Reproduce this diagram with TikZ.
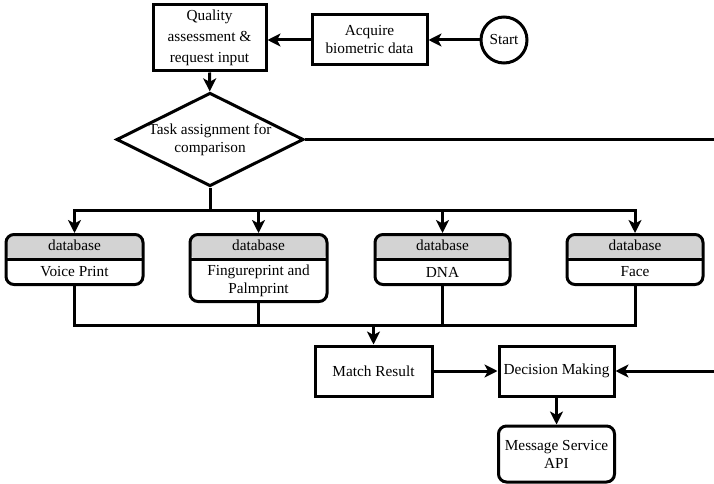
\documentclass[tikz,border=0pt]{standalone}
\usepackage{fontspec}
\setmainfont{Liberation Serif}
\usetikzlibrary{arrows.meta,shapes.geometric,calc}
\definecolor{dbhead}{RGB}{211,211,211}

% Database card: rounded frame with a shaded header strip
\newcommand\dbcard[6]{% name, x, top y, width, height, body text
  \node[dbbox, minimum width=#4, minimum height=#5, anchor=north] (#1) at (#2,#3) {};
  \node (#1-h) at ([yshift=-12.5pt]#1.north) {database};
  \node (#1-b) at ($(#1.south)!0.5!([yshift=-25pt]#1.north)$) {#6};
}

\begin{document}
\begin{tikzpicture}[x=1pt,y=-1pt,
  line width=3pt,
  every node/.style={font=\fontsize{15.3}{18}\selectfont, align=center, inner sep=0pt},
  box/.style={draw, rectangle},
  roundbox/.style={draw, rectangle, rounded corners=8pt},
  dbbox/.style={draw, rectangle, rounded corners=8pt,
    path picture={
      \fill[dbhead] (path picture bounding box.north west) rectangle
        ([yshift=-25pt]path picture bounding box.north east);
      \draw ([yshift=-25pt]path picture bounding box.north west) --
        ([yshift=-25pt]path picture bounding box.north east);
    }},
  decision/.style={draw, diamond, aspect=2},
  terminal/.style={draw, circle},
  flow/.style={-{Stealth[length=13pt,width=13pt,inset=3.5pt]}},
]
\useasboundingbox (0,0) rectangle (714,484);

% Top row
\node[terminal, minimum size=46pt] (start) at (504,40) {Start};
\node[box, minimum width=115pt, minimum height=50pt] (acquire) at (369.5,40) {Acquire\\biometric data};
\node[box, minimum width=113pt, minimum height=66pt, font=\fontsize{15.3}{21}\selectfont] (quality) at (209.5,38) {Quality\\assessment \&\\request input};

% Task assignment
\node[decision, minimum width=185pt, minimum height=93pt] (task) at (210,139.5) {Task assignment for\\comparison};

% Databases
\dbcard{voice}{74.5}{233}{137pt}{50pt}{Voice Print}
\dbcard{finger}{258.5}{233}{137pt}{67pt}{Fingureprint and\\Palmprint}
\dbcard{dna}{442.5}{233}{135pt}{50pt}{DNA}
\dbcard{face}{635}{233}{136pt}{50pt}{Face}

% Bottom part
\node[box, minimum width=117pt, minimum height=50pt] (match) at (373.5,371) {Match Result};
\node[box, minimum width=115pt, minimum height=50pt] (decide) at (556.5,371) {Decision Making};
\node[roundbox, minimum width=116pt, minimum height=56pt] (message) at (556.5,454) {Message Service\\API};

% Junction points
\coordinate (fork) at (210,210);
\coordinate (merge) at (373.5,325);
\coordinate (loop) at (730,139.5);

% Connectors
\draw[flow] (start) -- (acquire);
\draw[flow] (acquire.west) -- (acquire.west -| quality.east);
\draw[flow] (quality) -- (task);
\draw (task.south) -- (fork);
\draw[flow] (fork) -| (voice.north);
\draw[flow] (fork) -| (finger.north);
\draw[flow] (fork) -| (dna.north);
\draw[flow] (fork) -| (face.north);
\draw (voice.south) |- (merge);
\draw (finger.south) |- (merge);
\draw (dna.south) |- (merge);
\draw (face.south) |- (merge);
\draw[flow] (merge) -- (match);
\draw[flow] (match) -- (decide);
\draw[flow] (decide) -- (message);
\draw[flow] (task.east) -- (loop) |- (decide.east);
\end{tikzpicture}
\end{document}
